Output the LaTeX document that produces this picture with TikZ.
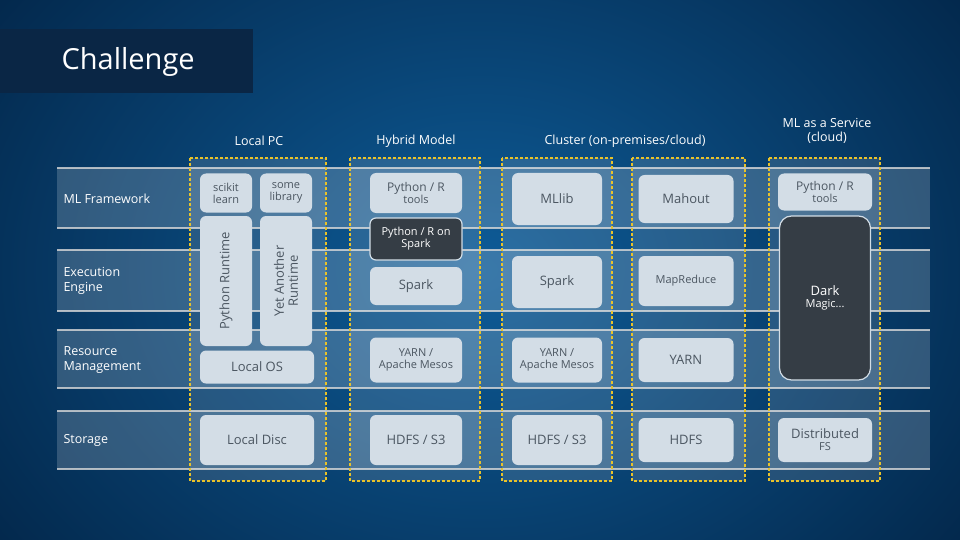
\documentclass[tikz,border=0pt]{standalone}
\usepackage{fontspec}
\setmainfont{Open Sans}
\usetikzlibrary{positioning}
\definecolor{bgin}{HTML}{0E5C98}
\definecolor{bgout}{HTML}{03284C}
\definecolor{mbox}{HTML}{D3DDE6}
\definecolor{mtext}{HTML}{4B5661}
\definecolor{mdark}{HTML}{353D45}
\definecolor{myell}{HTML}{E8C22A}
\definecolor{mtitle}{HTML}{0A2645}
\tikzset{
  band/.style={fill=white, fill opacity=.18, draw=none},
  bline/.style={draw=white!85!black, line width=1.2pt, opacity=.8},
  column/.style={draw=myell, densely dashed, line width=1.8pt, fill=white, fill opacity=.12},
  box/.style={rounded corners=6pt, fill=mbox, text=mtext, align=center, font=\fontsize{11}{12}\selectfont, inner sep=0pt},
  dbox/.style={box, fill=mdark, text=white, draw=mbox, line width=1.2pt},
  rowlab/.style={anchor=west, text=white, align=left, font=\fontsize{12.5}{15}\selectfont},
  head/.style={text=white, align=center, font=\fontsize{12.5}{14}\selectfont}
}
\newcommand{\bx}[6][box]{\node[#1, minimum width=#4pt, minimum height=#5pt] (#2) at (#3) {#6};}
\begin{document}
\begin{tikzpicture}[x=1pt,y=-1pt]
    \useasboundingbox (0,0) rectangle (960,540);
    \shade[inner color=bgin, outer color=bgout] (-120,-200) rectangle (1080,740);
    \clip (0,0) rectangle (960,540);

    % title
    \fill[mtitle] (0,29) rectangle (253,93);
    \node (title) [anchor=west, text=white, font=\fontsize{29}{30}\selectfont] at (58,62) {Challenge};

    % row bands
    \foreach \ya/\yb in {168/228, 250/311, 330/388, 411/469} {
        \path[band] (57,\ya) rectangle (930,\yb);
        \draw[bline] (57,\ya) -- (930,\ya) (57,\yb) -- (930,\yb);
    }
    \node (r1) [rowlab] at (60,199) {ML Framework};
    \node (r2) [rowlab] at (60,281) {Execution\\Engine};
    \node (r3) [rowlab] at (60,360) {Resource\\Management};
    \node (r4) [rowlab] at (60,440) {Storage};

    % columns
    \foreach \xa/\xb in {190/326, 350/480, 502/612, 632/745, 769/880}
        \draw[column] (\xa,158) rectangle (\xb,481);
    \node (h1) [head] at (259,141) {Local PC};
    \node (h2) [head] at (416,141) {Hybrid Model};
    \node (h3) [head] at (625,141) {Cluster (on-premises/cloud)};
    \node (h4) [head] at (827,131) {ML as a Service\\(cloud)};

    % local PC
    \bx{sk}{226,193}{52}{39}{scikit\\learn}
    \bx{sl}{286,193}{52}{39}{some\\library}
    \bx{pr}{226,281}{52}{130}{\rotatebox{90}{\fontsize{13}{14}\selectfont Python Runtime}}
    \bx{yr}{286,281}{52}{130}{\rotatebox{90}{\parbox{90pt}{\centering\fontsize{13}{14}\selectfont Yet Another\\Runtime}}}
    \bx{los}{257,367}{114}{33}{\fontsize{13}{14}\selectfont Local OS}
    \bx{ldi}{257,440}{114}{50}{\fontsize{13}{14}\selectfont Local Disc}

    % hybrid
    \bx{hpt}{416,193}{92}{40}{\fontsize{12}{14}\selectfont Python / R\\tools}
    \bx[dbox]{hps}{416,239}{92}{42}{Python / R on\\Spark}
    \bx{hsp}{416,286}{92}{38}{\fontsize{13}{14}\selectfont Spark}
    \bx{hya}{416,360}{92}{45}{YARN /\\Apache Mesos}
    \bx{hhd}{416,440}{92}{50}{\fontsize{13}{14}\selectfont HDFS / S3}

    % cluster
    \bx{cml}{557,199}{90}{52}{\fontsize{13}{14}\selectfont MLlib}
    \bx{csp}{557,282}{90}{52}{\fontsize{13}{14}\selectfont Spark}
    \bx{cya}{557,360}{90}{45}{YARN /\\Apache Mesos}
    \bx{chd}{557,440}{90}{50}{\fontsize{13}{14}\selectfont HDFS / S3}
    \bx{cma}{686,199}{95}{48}{\fontsize{13}{14}\selectfont Mahout}
    \bx{cmr}{686,281}{95}{50}{MapReduce}
    \bx{cyn}{686,360}{95}{44}{\fontsize{13}{14}\selectfont YARN}
    \bx{chf}{686,440}{95}{44}{\fontsize{13}{14}\selectfont HDFS}

    % ML as a service
    \bx{spt}{825,192}{94}{37}{\fontsize{12}{14}\selectfont Python / R\\tools}
    \bx[dbox, rounded corners=12pt]{sdm}{825,298}{91}{164}{\fontsize{13}{16}\selectfont Dark\\Magic...}
    \bx{sfs}{825,440}{94}{44}{\fontsize{13}{16}\selectfont Distributed\\FS}
\end{tikzpicture}
\end{document}
